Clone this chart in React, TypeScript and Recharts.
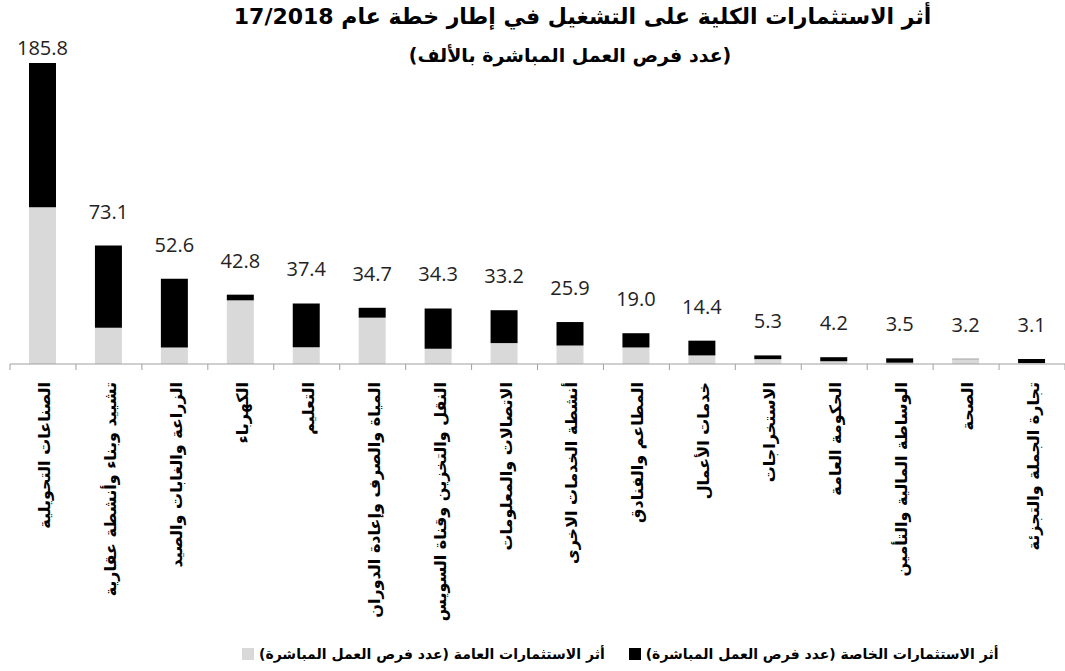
import { BarChart, Bar, XAxis, YAxis, LabelList } from 'recharts';

const sectors = [
  'الصناعات التحويلية',
  'تشييد وبناء وأنشطة عقارية',
  'الزراعة والغابات والصيد',
  'الكهرباء',
  'التعليم',
  'المياة والصرف وإعادة الدوران',
  'النقل والتخزين وقناة السويس',
  'الاتصالات والمعلومات',
  'أنشطة الخدمات الاخرى',
  'المطاعم والفنادق',
  'خدمات الأعمال',
  'الاستخراجات',
  'الحكومة العامة',
  'الوساطة المالية والتأمين',
  'الصحة',
  'تجارة الجملة والتجزئة',
];

// أثر الاستثمارات العامة
const publicJobs = [96.7, 22.4, 10.2, 39.3, 10.4, 28.6, 9.4, 12.9, 11.4, 10.2, 5.3, 3.0, 1.7, 0.8, 3.0, 0.6];
// أثر الاستثمارات الخاصة
const privateJobs = [89.1, 50.7, 42.4, 3.5, 27.0, 6.1, 24.9, 20.3, 14.5, 8.8, 9.1, 2.3, 2.5, 2.7, 0.2, 2.5];
const totals = [185.8, 73.1, 52.6, 42.8, 37.4, 34.7, 34.3, 33.2, 25.9, 19.0, 14.4, 5.3, 4.2, 3.5, 3.2, 3.1];

const data = sectors.map((name, i) => ({
  name,
  pub: publicJobs[i],
  priv: privateJobs[i],
  total: totals[i],
}));

const W = 1065;
const H = 671;
const LEFT = 10;
const STEP = (W - LEFT) / sectors.length;
const arabic = '"DejaVu Sans", sans-serif';

const SectorTick = (props: any) => {
  const { x, y, payload, index } = props;
  const half = STEP / 2;
  return (
    <g>
      <line x1={x - half} x2={x - half} y1={y - 8} y2={y - 2} stroke="#a0a0a0" />
      {index === sectors.length - 1 && (
        <line x1={x + half} x2={x + half} y1={y - 8} y2={y - 2} stroke="#a0a0a0" />
      )}
      <text
        transform={`translate(${x + 7},${y + 10}) rotate(-90)`}
        textAnchor="start"
        direction="rtl"
        fontFamily={arabic}
        fontWeight="bold"
        fontSize={16}
        fill="#000"
      >
        {payload.value}
      </text>
    </g>
  );
};

const TotalLabel = (props: any) => {
  const { x, y, width, value } = props;
  const ty = Math.max(y - 27, 55);
  return (
    <text x={x + width / 2} y={ty} textAnchor="middle" fontFamily='"Open Sans", sans-serif' fontSize={20} fill="#222">
      {Number(value).toFixed(1)}
    </text>
  );
};

export default function App() {
  return (
    <div style={{ position: 'absolute', left: 0, top: 0, width: W, height: H, background: '#fff' }}>
      <div
        dir="rtl"
        style={{
          position: 'absolute', top: 3, left: 0, width: 1165, textAlign: 'center',
          fontFamily: arabic, fontWeight: 'bold', fontSize: 22, lineHeight: '28px', color: '#000',
        }}
      >
        أثر الاستثمارات الكلية على التشغيل في إطار خطة عام 17/2018
      </div>
      <div
        dir="rtl"
        style={{
          position: 'absolute', top: 41, left: 0, width: 1140, textAlign: 'center',
          fontFamily: arabic, fontWeight: 'bold', fontSize: 19, lineHeight: '28px', color: '#000',
        }}
      >
        (عدد فرص العمل المباشرة بالألف)
      </div>
      <BarChart
        width={W}
        height={H}
        data={data}
        margin={{ top: 63, right: 0, left: LEFT, bottom: 0 }}
        barSize={27}
      >
        <XAxis
          dataKey="name"
          interval={0}
          height={307}
          tickLine={false}
          axisLine={{ stroke: '#a0a0a0' }}
          tick={<SectorTick />}
        />
        <YAxis hide domain={[0, 185.8]} allowDataOverflow />
        <Bar dataKey="pub" stackId="a" fill="#d9d9d9" isAnimationActive={false} />
        <Bar dataKey="priv" stackId="a" fill="#000000" isAnimationActive={false}>
          <LabelList dataKey="total" content={<TotalLabel />} />
        </Bar>
      </BarChart>
      <div
        style={{
          position: 'absolute', top: 646, left: 242, display: 'flex', alignItems: 'center',
          fontFamily: arabic, fontWeight: 'bold', fontSize: 14, color: '#000',
        }}
      >
        <span style={{ width: 12, height: 12, background: '#d9d9d9', display: 'inline-block', marginRight: 5 }} />
        <span dir="rtl">أثر الاستثمارات العامة (عدد فرص العمل المباشرة)</span>
        <span style={{ width: 12, height: 12, background: '#000', display: 'inline-block', marginLeft: 24, marginRight: 5 }} />
        <span dir="rtl">أثر الاستثمارات الخاصة (عدد فرص العمل المباشرة)</span>
      </div>
    </div>
  );
}
